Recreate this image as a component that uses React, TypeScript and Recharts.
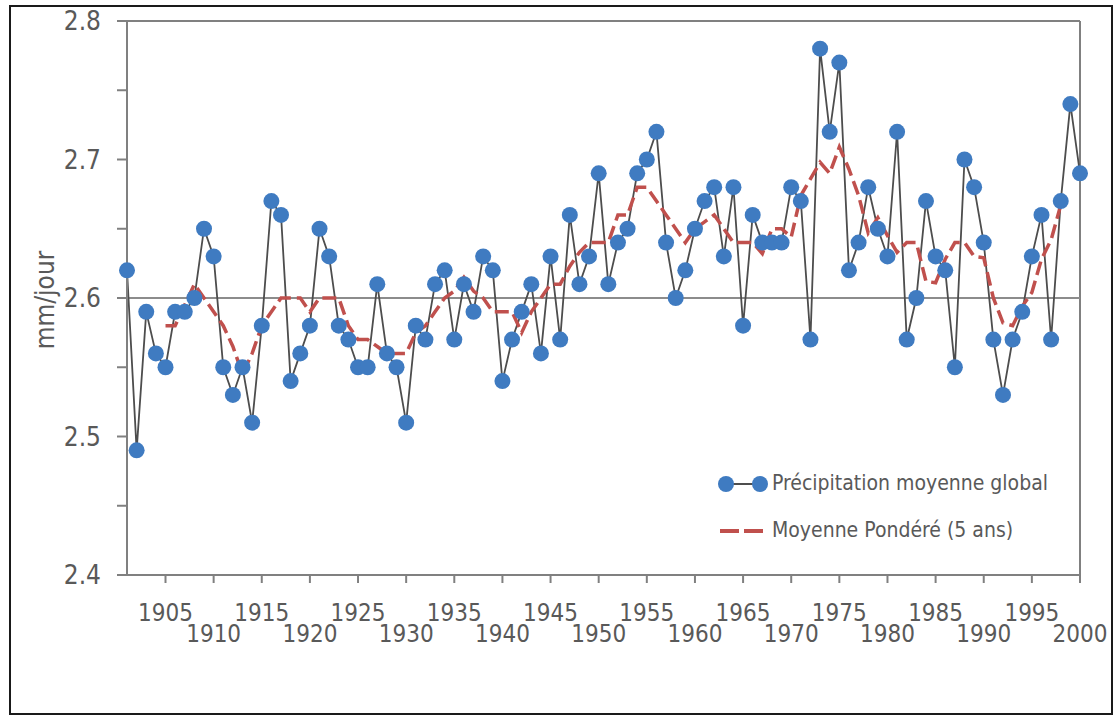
import { Legend, Line, LineChart, ReferenceLine, XAxis, YAxis } from "recharts";

const FONT = '"Liberation Sans Narrow", "DejaVu Sans Condensed", "Open Sans", sans-serif';
const TEXT = "#595959";
const AXIS = "#808080";
const BLUE = "#3f7bc1";
const RED = "#c0504d";

const firstYear = 1901;

// annual global mean precipitation, mm/day, 1901-2000
const precipitation = [
  2.62, 2.49, 2.59, 2.56, 2.55, 2.59, 2.59, 2.6, 2.65, 2.63,
  2.55, 2.53, 2.55, 2.51, 2.58, 2.67, 2.66, 2.54, 2.56, 2.58,
  2.65, 2.63, 2.58, 2.57, 2.55, 2.55, 2.61, 2.56, 2.55, 2.51,
  2.58, 2.57, 2.61, 2.62, 2.57, 2.61, 2.59, 2.63, 2.62, 2.54,
  2.57, 2.59, 2.61, 2.56, 2.63, 2.57, 2.66, 2.61, 2.63, 2.69,
  2.61, 2.64, 2.65, 2.69, 2.7, 2.72, 2.64, 2.6, 2.62, 2.65,
  2.67, 2.68, 2.63, 2.68, 2.58, 2.66, 2.64, 2.64, 2.64, 2.68,
  2.67, 2.57, 2.78, 2.72, 2.77, 2.62, 2.64, 2.68, 2.65, 2.63,
  2.72, 2.57, 2.6, 2.67, 2.63, 2.62, 2.55, 2.7, 2.68, 2.64,
  2.57, 2.53, 2.57, 2.59, 2.63, 2.66, 2.57, 2.67, 2.74, 2.69,
];

// 5-year weighted mean, defined 1905-1998
const smoothStart = 1905;
const smoothed = [
  2.58, 2.58, 2.595, 2.61, 2.6, 2.59, 2.58, 2.565, 2.545, 2.56,
  2.58, 2.59, 2.6, 2.6, 2.6, 2.59, 2.6, 2.6, 2.6, 2.58,
  2.57, 2.57, 2.565, 2.56, 2.56, 2.56, 2.575, 2.58, 2.59, 2.6,
  2.605, 2.615, 2.605, 2.6, 2.59, 2.59, 2.59, 2.575, 2.59, 2.6,
  2.61, 2.61, 2.623, 2.633, 2.64, 2.64, 2.64, 2.66, 2.66, 2.68,
  2.68, 2.67, 2.66, 2.65, 2.64, 2.65, 2.655, 2.66, 2.65, 2.64,
  2.64, 2.64, 2.632, 2.65, 2.65, 2.644, 2.674, 2.686, 2.698, 2.69,
  2.709, 2.693, 2.674, 2.647, 2.658, 2.645, 2.633, 2.64, 2.64, 2.612,
  2.611, 2.628, 2.64, 2.64, 2.63, 2.629, 2.6, 2.582, 2.58, 2.594,
  2.604, 2.628, 2.642, 2.667,
];

const xTicks = [
  1905, 1910, 1915, 1920, 1925, 1930, 1935, 1940, 1945, 1950,
  1955, 1960, 1965, 1970, 1975, 1980, 1985, 1990, 1995, 2000,
];
const yTicks = [2.4, 2.45, 2.5, 2.55, 2.6, 2.65, 2.7, 2.75, 2.8];

const yTitle = "mm/jour";
const seriesNames = {
  precip: "Précipitation moyenne global",
  smooth: "Moyenne Pondéré (5 ans)",
};

const rows = precipitation.map((precip, i) => {
  const year = firstYear + i;
  const k = year - smoothStart;
  return { year, precip, smooth: k >= 0 && k < smoothed.length ? smoothed[k] : null };
});

function YTick({ x, y, payload }: any) {
  const v = payload.value as number;
  if (Math.round(v * 100) % 10 !== 0) return <g />;
  return (
    <text x={x} y={y} dy={9} textAnchor="end" fill={TEXT} fontSize={26} fontFamily={FONT}>
      {v.toFixed(1)}
    </text>
  );
}

// staggered year labels, every other one pushed down a row
function XTick({ x, y, payload, index }: any) {
  const low = index % 2 === 1;
  return (
    <text x={x} y={y + (low ? 57 : 36)} textAnchor="middle" fill={TEXT} fontSize={24} fontFamily={FONT}>
      {payload.value}
    </text>
  );
}

function LegendBox() {
  return (
    <div style={{ fontFamily: FONT, fontSize: 21, color: TEXT, lineHeight: "47px" }}>
      <div style={{ display: "flex", alignItems: "center" }}>
        <svg width={56} height={20}>
          <line x1={12} y1={10} x2={46} y2={10} stroke="#4d4d4d" strokeWidth={2} />
          <circle cx={12} cy={10} r={8} fill={BLUE} />
          <circle cx={46} cy={10} r={8} fill={BLUE} />
        </svg>
        <span style={{ marginLeft: 2 }}>{seriesNames.precip}</span>
      </div>
      <div style={{ display: "flex", alignItems: "center" }}>
        <svg width={56} height={20}>
          <line x1={6} y1={10} x2={50} y2={10} stroke={RED} strokeWidth={4} strokeDasharray="19 5" />
        </svg>
        <span style={{ marginLeft: 2 }}>{seriesNames.smooth}</span>
      </div>
    </div>
  );
}

export default function App() {
  return (
    <div style={{ position: "absolute", left: 0, top: 0, width: 1118, height: 720, background: "#fff" }}>
      <div
        style={{
          position: "absolute",
          left: 9,
          top: 5,
          width: 1100,
          height: 706,
          border: "2px solid #1a1a1a",
        }}
      />
      <div
        style={{
          position: "absolute",
          left: 45,
          top: 300,
          transform: "translate(-50%, -50%) rotate(-90deg)",
          fontFamily: FONT,
          fontSize: 26,
          color: TEXT,
          whiteSpace: "nowrap",
        }}
      >
        {yTitle}
      </div>
      <LineChart width={1118} height={720} data={rows} margin={{ top: 21, right: 38, bottom: 65, left: 0 }}>
        <XAxis
          dataKey="year"
          type="number"
          domain={[1901, 2000]}
          ticks={xTicks}
          interval={0}
          height={80}
          stroke={AXIS}
          strokeWidth={2}
          tickSize={8}
          tick={<XTick />}
        />
        <YAxis
          type="number"
          domain={[2.4, 2.8]}
          ticks={yTicks}
          interval={0}
          width={127}
          stroke={AXIS}
          strokeWidth={2}
          tickSize={10}
          tickMargin={16}
          tick={<YTick />}
        />
        <ReferenceLine y={2.8} stroke={AXIS} strokeWidth={2} />
        <ReferenceLine x={2000} stroke={AXIS} strokeWidth={2} />
        <ReferenceLine y={2.6} stroke="#8c8c8c" strokeWidth={2} />
        <Line
          dataKey="precip"
          name={seriesNames.precip}
          stroke="#4d4d4d"
          strokeWidth={1.8}
          dot={{ r: 8, fill: BLUE, stroke: BLUE, strokeWidth: 0 }}
          activeDot={false}
          isAnimationActive={false}
        />
        <Line
          dataKey="smooth"
          name={seriesNames.smooth}
          stroke={RED}
          strokeWidth={3.5}
          strokeDasharray="14 6"
          dot={false}
          activeDot={false}
          isAnimationActive={false}
        />
        <Legend
          layout="vertical"
          align="center"
          verticalAlign="middle"
          content={() => <LegendBox />}
          wrapperStyle={{ left: 714, top: 460, width: "auto" }}
        />
      </LineChart>
    </div>
  );
}
